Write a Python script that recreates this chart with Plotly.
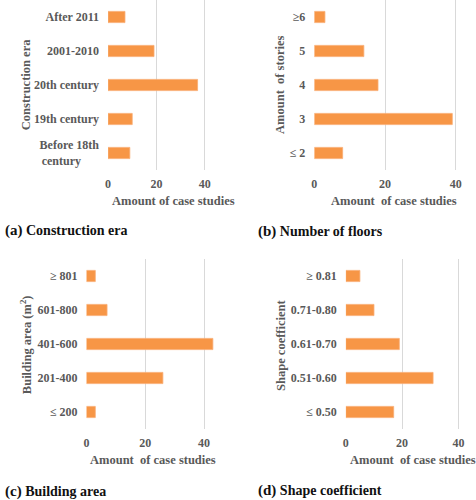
import plotly.graph_objects as go

# ---- data ----
era_labels = ["Before 18th century", "19th century", "20th century", "2001-2010", "After 2011"]
era_values = [9, 10, 37, 19, 7]

story_labels = ["≤ 2", "3", "4", "5", "≥6"]
story_values = [8, 39, 18, 14, 3]

area_labels = ["≤ 200", "201-400", "401-600", "601-800", "≥ 801"]
area_values = [3, 26, 43, 7, 3]

shape_labels = ["≤ 0.50", "0.51-0.60", "0.61-0.70", "0.71-0.80", "≥ 0.81"]
shape_values = [17, 31, 19, 10, 5]

x_ticks = [0, 20, 40]

W, H = 476, 500
FONT = "Liberation Serif"
GRAY = "#595959"
BAR = "#F79646"

def px_x(p):
    return p / W

def px_y(p):
    return 1 - p / H

fig = go.Figure()

panels = [
    # labels, values, x0px, x1px, xmax, ytop, ybot, axis suffix
    (era_labels, era_values, 105.7, 236.0, 53.5, 0, 170, ""),
    (story_labels, story_values, 313.3, 473.5, 45.0, 0, 170, "2"),
    (area_labels, area_values, 84.0, 218.0, 45.3, 259, 429, "3"),
    (shape_labels, shape_values, 345.0, 476.0, 46.25, 259, 429, "4"),
]

for labels, values, x0, x1, xmax, yt, yb, sfx in panels:
    fig.add_trace(go.Bar(
        x=values, y=labels, orientation="h",
        marker=dict(color=BAR, line=dict(color="#F9AC72", width=0.8)),
        width=0.33,
        xaxis="x" + sfx, yaxis="y" + sfx,
        showlegend=False, hoverinfo="x+y",
    ))
    ticktext = []
    for l in labels:
        if l == "Before 18th century":
            ticktext.append("Before 18th<br>century" + "\u00a0" * 6)
        else:
            ticktext.append(l)
    fig.layout["xaxis" + sfx] = dict(
        domain=[px_x(x0), px_x(x1)], range=[0, xmax],
        tickvals=x_ticks, showgrid=True, gridcolor="#D9D9D9", gridwidth=1.4,
        zeroline=False, showline=False, ticks="", ticklabelstandoff=5,
        tickfont=dict(family=FONT, size=12, color=GRAY, weight="bold"),
        anchor="y" + sfx, fixedrange=True,
    )
    fig.layout["yaxis" + sfx] = dict(
        domain=[px_y(yb), px_y(yt)], range=[-0.5, 4.5],
        type="category", categoryorder="array", categoryarray=labels,
        tickvals=labels, ticktext=ticktext,
        showgrid=False, zeroline=False, showline=False, ticks="",
        ticklabelstandoff=8,
        tickfont=dict(family=FONT, size=12, color=GRAY, weight="bold"),
        anchor="x" + sfx, fixedrange=True,
    )

annotations = []
# x-axis titles
for text, cx, cy in [
    ("Amount of case studies", 171.5, 201),
    ("Amount\u00a0 of case studies", 393.4, 201),
    ("Amount\u00a0 of case studies", 151.3, 460),
    ("Amount\u00a0 of case studies", 412.5, 460),
]:
    annotations.append(dict(
        text=text, x=px_x(cx), y=px_y(cy), xref="paper", yref="paper",
        xanchor="center", yanchor="middle", showarrow=False,
        font=dict(family=FONT, size=12.5, color=GRAY, weight="bold"),
    ))
# y-axis titles
for text, cx, cy in [
    ("Construction era", 23.3, 85),
    ("Amount\u00a0 of stories", 278.7, 85),
    ("Building area (m<sup>2</sup>)", 23.3, 345),
    ("Shape coefficient", 279.7, 345),
]:
    annotations.append(dict(
        text=text, x=px_x(cx), y=px_y(cy), xref="paper", yref="paper",
        xanchor="center", yanchor="middle", showarrow=False, textangle=-90,
        font=dict(family=FONT, size=12.5, color=GRAY, weight="bold"),
    ))
# captions
for tag, text, lx, cy in [
    ("(a)", "Construction era", 0, 231),
    ("(b)", "Number of floors", 254.7, 232),
    ("(c)", "Building area", 0, 491),
    ("(d)", "Shape coefficient", 254.7, 490),
]:
    annotations.append(dict(
        text="<span style='font-size:15px'>" + tag + "</span> " + text,
        x=px_x(lx), y=px_y(cy), xref="paper", yref="paper",
        xanchor="left", yanchor="middle", showarrow=False,
        font=dict(family=FONT, size=14, color="#111111", weight="bold"),
    ))

fig.update_layout(
    width=W, height=H, margin=dict(l=0, r=0, t=0, b=0),
    paper_bgcolor="white", plot_bgcolor="white",
    annotations=annotations, bargap=0.67,
)

fig.write_html(
    "out.html",
    config={"displayModeBar": False},
    post_script="document.body.style.margin='0';document.body.style.padding='0';"
                "document.body.style.overflow='hidden';",
)
